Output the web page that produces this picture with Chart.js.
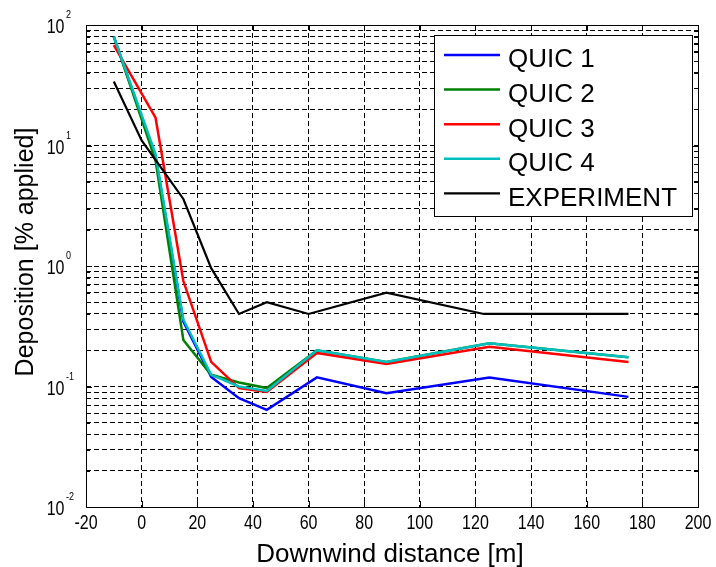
<!DOCTYPE html>
<html>
<head>
<meta charset="utf-8">
<title>Deposition vs downwind distance</title>
<script src="https://cdn.jsdelivr.net/npm/chart.js@4.4.1/dist/chart.umd.min.js"></script>
<style>
  html, body { margin: 0; padding: 0; background: #fff; }
  #wrap { width: 716px; height: 567px; }
</style>
</head>
<body>
<div id="wrap"><canvas id="chart" width="716" height="567"></canvas></div>
<script>
// ── Data ────────────────────────────────────────────────────
const quicX   = [-10, 5, 15, 25, 35, 45, 63, 88, 125, 175];
const quic1   = [80, 8.0, 0.345, 0.12, 0.08, 0.064, 0.119, 0.088, 0.119, 0.082];
const quic2   = [80, 7.5, 0.243, 0.125, 0.108, 0.097, 0.2, 0.16, 0.228, 0.175];
const quic3   = [68, 17, 0.75, 0.16, 0.097, 0.09, 0.19, 0.154, 0.214, 0.16];
const quic4   = [80, 8.5, 0.36, 0.125, 0.1, 0.092, 0.2, 0.16, 0.228, 0.175];
const expX    = [-10, 0, 15, 25, 35, 45, 60, 88, 123, 175];
const expVals = [34, 11, 3.6, 0.96, 0.4, 0.5, 0.4, 0.6, 0.4, 0.4];

const seriesLabels = ['QUIC 1', 'QUIC 2', 'QUIC 3', 'QUIC 4', 'EXPERIMENT'];
const xTicks = [-20, 0, 20, 40, 60, 80, 100, 120, 140, 160, 180, 200];
const yDecades = [-2, -1, 0, 1, 2];

// ── Fonts ───────────────────────────────────────────────────
const SANS = '"Liberation Sans", Arial, sans-serif';
const NARROW_SCALE = 0.82;   // Arial Narrow look, no narrow face installed

const pts = (xs, ys) => xs.map((x, i) => ({ x, y: ys[i] }));

// log ticks 1..9 per decade
const yTickValues = [];
yDecades.forEach(e => {
  for (let k = 1; k <= 9; k++) {
    const v = k * Math.pow(10, e);
    if (v <= 100.0001) yTickValues.push(+v.toPrecision(3));
  }
});

// squeezed text for tick labels
function narrowText(ctx, text, x, y, align, size) {
  ctx.save();
  ctx.translate(x, y);
  ctx.scale(NARROW_SCALE, 1);
  ctx.font = size + 'px ' + SANS;
  ctx.textAlign = align;
  ctx.textBaseline = 'alphabetic';
  ctx.fillText(text, 0, 0);
  ctx.restore();
}

// ── Frame, inner ticks, tick labels, titles, legend ─────────
const matlabFrame = {
  id: 'matlabFrame',
  afterDraw(chart) {
    const { ctx, chartArea: a, scales: { x, y } } = chart;
    ctx.save();
    ctx.setLineDash([]);
    ctx.strokeStyle = '#000';
    ctx.lineWidth = 1;

    // inner tick marks
    ctx.beginPath();
    xTicks.forEach(v => {
      const px = Math.round(x.getPixelForValue(v)) + 0.5;
      ctx.moveTo(px, a.bottom); ctx.lineTo(px, a.bottom - 6);
      ctx.moveTo(px, a.top);    ctx.lineTo(px, a.top + 6);
    });
    yTickValues.forEach(v => {
      const py = Math.round(y.getPixelForValue(v)) + 0.5;
      const len = Math.abs(Math.log10(v) % 1) < 1e-6 ? 6 : 4;
      ctx.moveTo(a.left, py);  ctx.lineTo(a.left + len, py);
      ctx.moveTo(a.right, py); ctx.lineTo(a.right - len, py);
    });
    ctx.stroke();

    // box
    ctx.strokeRect(Math.round(a.left) + 0.5, Math.round(a.top) + 0.5,
                   Math.round(a.right - a.left), Math.round(a.bottom - a.top));

    ctx.fillStyle = '#000';
    // x tick labels
    xTicks.forEach(v => {
      narrowText(ctx, String(v), x.getPixelForValue(v), a.bottom + 22, 'center', 19.5);
    });
    // y labels 10^n
    yDecades.forEach(e => {
      const py = y.getPixelForValue(Math.pow(10, e));
      narrowText(ctx, '10', 64.5, py + 8, 'right', 19.5);
      narrowText(ctx, String(e), 66, py - 7, 'left', 11);
    });

    // axis titles
    ctx.font = '26px ' + SANS;
    ctx.textAlign = 'center';
    ctx.textBaseline = 'alphabetic';
    ctx.fillText('Downwind distance [m]', 390, 562);

    ctx.save();
    ctx.translate(33, 252);
    ctx.rotate(-Math.PI / 2);
    ctx.font = '25px ' + SANS;
    ctx.fillText('Deposition [% applied]', 0, 0);
    ctx.restore();

    // legend box
    const lx = 434, ly = 35, lw = 258, lh = 181;
    ctx.fillStyle = '#fff';
    ctx.fillRect(lx, ly, lw, lh);
    ctx.strokeRect(lx + 0.5, ly + 0.5, lw, lh);
    ctx.font = '26px ' + SANS;
    ctx.textAlign = 'left';
    chart.data.datasets.forEach((ds, i) => {
      const ry = 55 + i * 34.6;
      ctx.strokeStyle = ds.borderColor;
      ctx.lineWidth = ds.borderWidth;
      ctx.beginPath();
      ctx.moveTo(444, ry); ctx.lineTo(500, ry);
      ctx.stroke();
      ctx.fillStyle = '#000';
      ctx.fillText(ds.label, 508, ry + 12.4);
    });
    ctx.restore();
  }
};

const colors = ['#0000ff', '#008000', '#ff0000', '#00bfbf', '#000000'];
const seriesData = [pts(quicX, quic1), pts(quicX, quic2), pts(quicX, quic3), pts(quicX, quic4), pts(expX, expVals)];

new Chart(document.getElementById('chart'), {
  type: 'line',
  data: {
    datasets: seriesData.map((d, i) => ({
      label: seriesLabels[i],
      data: d,
      borderColor: colors[i],
      backgroundColor: colors[i],
      borderWidth: i === 4 ? 2.2 : 2.5,
      pointRadius: 0,
      tension: 0,
      fill: false,
      order: 4 - i          // later series drawn on top, like MATLAB
    }))
  },
  options: {
    responsive: false,
    animation: false,
    devicePixelRatio: 1,
    layout: { padding: { left: 0, top: 25, right: 18, bottom: 0 } },
    plugins: { legend: { display: false }, tooltip: { enabled: false } },
    scales: {
      x: {
        type: 'linear',
        min: -20, max: 200,
        afterBuildTicks: s => { s.ticks = xTicks.map(v => ({ value: v })); },
        afterFit: s => { s.height = 60; },
        ticks: { autoSkip: false, maxRotation: 0, callback: () => '', font: { size: 10 } },
        grid: { color: '#000', lineWidth: 1, drawTicks: false },
        border: { display: false, dash: [5, 3] }
      },
      y: {
        type: 'logarithmic',
        min: 0.01, max: 100,
        afterBuildTicks: s => { s.ticks = yTickValues.map(v => ({ value: v })); },
        afterFit: s => { s.width = 86; },
        ticks: { autoSkip: false, callback: () => '', font: { size: 10 } },
        grid: { color: '#000', lineWidth: 1, drawTicks: false },
        border: { display: false, dash: [5, 3] }
      }
    }
  },
  plugins: [matlabFrame]
});
</script>
</body>
</html>
